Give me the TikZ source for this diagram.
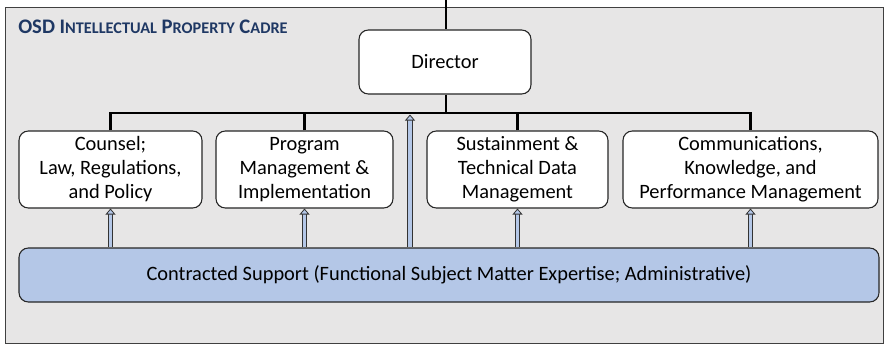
\documentclass[tikz,border=0pt]{standalone}
\usepackage{fontspec}
\setmainfont{Carlito}
\usetikzlibrary{arrows.meta}
\definecolor{cadrebg}{HTML}{E7E6E6}
\definecolor{supfill}{HTML}{B4C7E7}
\definecolor{titleblue}{HTML}{1F3864}
\begin{document}
\begin{tikzpicture}[x=0.75pt, y=-0.75pt,
    box/.style = {draw=black!85, fill=white, rounded corners=7pt, line width=0.8pt, align=center,
                  minimum height=57.75pt, inner sep=0pt, font=\fontsize{15.3}{18}\selectfont},
    bus/.style = {line width=2.2pt, line join=miter},
    uparrow/.style = {double=supfill, double distance=2.6pt, line width=0.6pt, draw=black!80,
                      -{Triangle[open, fill=supfill, width=7.5pt, length=4.5pt, line width=0.6pt]}}]
    \useasboundingbox (0,0) rectangle (885,347);
    % frame of the cadre
    \draw[draw=black!75, fill=cadrebg, line width=0.6pt] (5,7) rectangle (883,343);
    \node[anchor=base west, text=titleblue, inner sep=0pt, font=\bfseries\fontsize{15.5}{17}\selectfont] (title) at (18,33)
        {OSD I{\fontsize{12.2}{14}\selectfont NTELLECTUAL} P{\fontsize{12.2}{14}\selectfont ROPERTY} C{\fontsize{12.2}{14}\selectfont ADRE}};
    % boxes
    \node[box, minimum width=129pt, minimum height=48pt] (dir) at (445,62) {Director};
    \node[box, minimum width=137.25pt] (counsel) at (110.5,169.5) {Counsel;\\Law, Regulations,\\and Policy};
    \node[box, minimum width=132.75pt] (program) at (304.5,169.5) {Program\\Management \&\\Implementation};
    \node[box, minimum width=135.75pt] (sustain) at (517.5,169.5) {Sustainment \&\\Technical Data\\Management};
    \node[box, minimum width=191.25pt] (comms) at (750.5,169.5) {Communications,\\Knowledge, and\\Performance Management};
    \node[box, fill=supfill, minimum width=645pt, minimum height=40.5pt] (support) at (449,275)
        {Contracted Support (Functional Subject Matter Expertise; Administrative)};
    % lines of the org chart
    \coordinate (top) at (446,0);
    \coordinate (busmid) at (446,113);
    \draw[bus] (top) -- (top |- dir.north);
    \draw[bus] (dir.south -| top) -- (busmid);
    \draw[bus] (counsel.north) |- (busmid) -| (comms.north);
    \draw[bus] (program.north) -- (program.north |- busmid);
    \draw[bus] (sustain.north) -- (sustain.north |- busmid);
    % support arrows
    \coordinate (midtip) at (410,114.5);
    \draw[uparrow] (counsel.south |- support.north) -- (counsel.south);
    \draw[uparrow] (program.south |- support.north) -- (program.south);
    \draw[uparrow] (midtip |- support.north) -- (midtip);
    \draw[uparrow] (sustain.south |- support.north) -- (sustain.south);
    \draw[uparrow] (comms.south |- support.north) -- (comms.south);
\end{tikzpicture}
\end{document}
